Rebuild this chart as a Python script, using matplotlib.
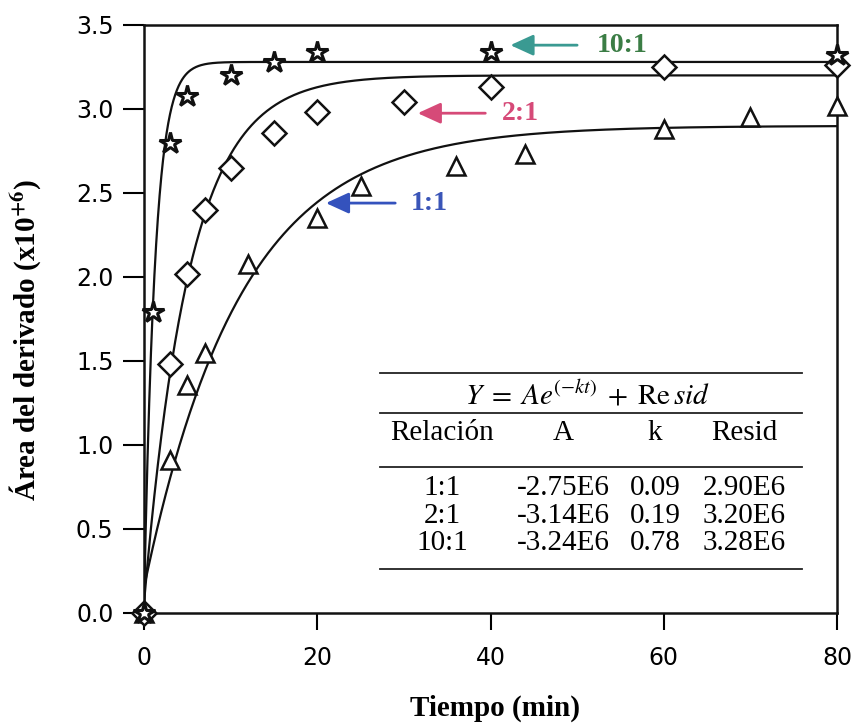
import numpy as np
import matplotlib
matplotlib.use("Agg")
import matplotlib.pyplot as plt
from matplotlib.lines import Line2D

plt.rcParams['mathtext.fontset'] = 'stix'

# ---- data ----
t_10 = [0, 1, 3, 5, 10, 15, 20, 40, 80]
y_10 = [0, 1.79, 2.80, 3.08, 3.20, 3.28, 3.34, 3.34, 3.32]
t_2 = [0, 3, 5, 7, 10, 15, 20, 30, 40, 60, 80]
y_2 = [0, 1.48, 2.02, 2.40, 2.65, 2.86, 2.98, 3.04, 3.13, 3.25, 3.26]
t_1 = [0, 3, 5, 7, 12, 20, 25, 36, 44, 60, 70, 80]
y_1 = [0, 0.91, 1.36, 1.55, 2.08, 2.35, 2.54, 2.66, 2.73, 2.88, 2.95, 3.02]

ratios = ["1:1", "2:1", "10:1"]
A_vals = [-2.75, -3.14, -3.24]      # x10^6
k_vals = [0.09, 0.19, 0.78]
resid_vals = [2.90, 3.20, 3.28]     # x10^6
A_txt = ["-2.75E6", "-3.14E6", "-3.24E6"]
k_txt = ["0.09", "0.19", "0.78"]
R_txt = ["2.90E6", "3.20E6", "3.28E6"]

xticks = [0, 20, 40, 60, 80]
yticks = [0.0, 0.5, 1.0, 1.5, 2.0, 2.5, 3.0, 3.5]

W, H = 857, 725
fig = plt.figure(figsize=(W / 100, H / 100), dpi=100)
ax = fig.add_axes([144 / W, 1 - 613 / H, (837 - 144) / W, (613 - 25) / H])

serif = 'Liberation Serif'

# fitted curves
tt = np.linspace(0, 80, 800)
for A, k, R in zip(A_vals, k_vals, resid_vals):
    ax.plot(tt, A * np.exp(-k * tt) + R, color='#111111', lw=1.6, zorder=2)

# markers
ax.plot(t_1, y_1, linestyle='none', marker='^', ms=13, mfc='white', mec='#111111',
        mew=1.8, clip_on=False, zorder=3)
ax.plot(t_2, y_2, linestyle='none', marker='D', ms=12, mfc='white', mec='#111111',
        mew=1.8, clip_on=False, zorder=3)
ax.plot(t_10, y_10, linestyle='none', marker='*', ms=16, mfc='white', mec='#111111',
        mew=2.2, clip_on=False, zorder=4)

# arrows with labels
arrows = [
    ("10:1", (42.3, 3.38), (50.0, 3.38), '#3a9a92', '#3b7d45', 52.3),
    ("2:1", (31.6, 2.975), (39.4, 2.975), '#d64a78', '#d64a78', 41.3),
    ("1:1", (21.0, 2.44), (29.0, 2.44), '#3452bd', '#3a55b8', 30.8),
]
for lab, head, tail, acol, tcol, tx in arrows:
    ax.annotate("", xy=head, xytext=tail,
                arrowprops=dict(arrowstyle='-|>,head_length=0.7,head_width=0.32',
                                mutation_scale=20, lw=2.0, color=acol,
                                shrinkA=0, shrinkB=0), zorder=5)
    ax.text(tx, head[1], lab, color=tcol, fontsize=20, fontweight='bold',
            family=serif, va='center', ha='left')

ax.set_xlim(0, 80)
ax.set_ylim(0, 3.5)
ax.set_xticks(xticks)
ax.set_xticklabels([str(v) for v in xticks])
ax.set_yticks(yticks)
ax.set_yticklabels([f"{v:.1f}" for v in yticks])
ax.tick_params(axis='y', direction='out', length=15, width=1.5, labelsize=17, pad=7)
ax.tick_params(axis='x', direction='out', length=12, width=1.5, labelsize=17, pad=12)
for s in ax.spines.values():
    s.set_linewidth(1.8)
    s.set_color('#111111')

fig.text(495 / W, 1 - 708 / H, "Tiempo (min)", family=serif, fontweight='bold',
         fontsize=21, ha='center', va='center')
fig.text(25 / W, 1 - 340 / H, r"Área del derivado (x10$^{\mathbf{+6}}$)", family=serif,
         fontweight='bold', fontsize=21, ha='center', va='center', rotation=90)

# table
def fx(px):
    return px / W

def fy(py):
    return 1 - py / H

for py in [373, 413, 467, 569]:
    fig.add_artist(Line2D([fx(380), fx(802)], [fy(py), fy(py)], color='#222222', lw=1.3))

fig.text(fx(588), fy(395), r"$Y\;=\;Ae^{(-kt)}\;+\;\mathrm{Re}\,sid$", fontsize=21,
         ha='center', va='center')
cols = [442, 563, 655, 744]
headers = ["Relación", "A", "k", "Resid"]
for cx, h in zip(cols, headers):
    fig.text(fx(cx), fy(433), h, family=serif, fontsize=21, ha='center', va='center')
row_y = [488, 516, 543]
for ry, r, a, k, rr in zip(row_y, ratios, A_txt, k_txt, R_txt):
    for cx, v in zip(cols, [r, a, k, rr]):
        fig.text(fx(cx), fy(ry), v, family=serif, fontsize=21, ha='center', va='center')

fig.savefig("out.png", dpi=100)
